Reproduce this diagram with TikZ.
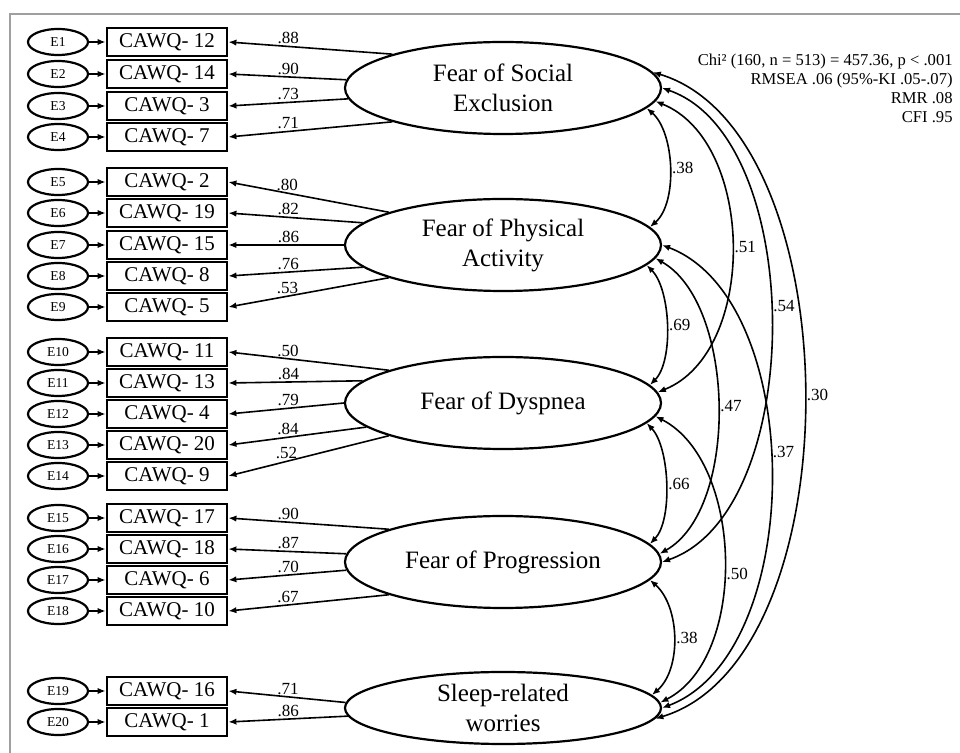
\documentclass[tikz,border=0pt]{standalone}
\usepackage{fontspec}
\setmainfont{Liberation Serif}
\usetikzlibrary{positioning, shapes.geometric, arrows.meta, calc}

\tikzset{
  errnode/.style={draw, ellipse, line width=1.1pt, minimum width=30pt,
    minimum height=13pt, inner sep=0pt, font=\fontsize{6.8}{7.5}\selectfont},
  itembox/.style={draw, line width=1.4pt, minimum width=60pt,
    minimum height=14pt, inner sep=0pt, font=\fontsize{10.5}{12}\selectfont},
  latent/.style={draw, ellipse, line width=1.1pt, minimum width=158pt,
    minimum height=46pt, inner sep=0pt, align=center,
    font=\fontsize{12.5}{15}\selectfont},
  loadline/.style={line width=0.8pt, -{Latex[length=4pt,width=3.2pt]}},
  corr/.style={line width=0.8pt,
    {Latex[length=4pt,width=3.2pt]}-{Latex[length=4pt,width=3.2pt]}},
  coef/.style={font=\fontsize{8.5}{10}\selectfont, inner sep=1pt},
}

\begin{document}
\begin{tikzpicture}[x=0.5pt, y=-0.5pt]
  \useasboundingbox (0,0) rectangle (960,753);
  \draw[gray!75, line width=0.9pt] (10,14) rectangle (990,790);

  % latent factors
  \node[latent] (fse) at (503,88) {Fear of Social\\Exclusion};
  \node[latent] (fpa) at (503,245) {Fear of Physical\\Activity};
  \node[latent] (fdy) at (503,403) {Fear of Dyspnea};
  \node[latent] (fpr) at (503,562) {Fear of Progression};
  \node[latent, minimum height=36pt, inner sep=-1.5pt] (slw) at (503,708)
       {Sleep-related\\worries};

  % items with their errors
  \foreach \i/\item/\y in {1/12/42, 2/14/74, 3/3/106, 4/7/137,
      5/2/182, 6/19/213, 7/15/245, 8/8/276, 9/5/307,
      10/11/352, 11/13/383, 12/4/414, 13/20/445, 14/9/476,
      15/17/518, 16/18/549, 17/6/580, 18/10/611,
      19/16/691, 20/1/722} {
    \node[errnode] (e\i) at (58,\y) {E\i};
    \node[itembox] (b\i) at (167,\y) {CAWQ- \item};
    \draw[loadline] (e\i) -- (b\i);
  }

  % loadings
  \foreach \i/\lat/\ang/\val in {1/fse/163/.88, 2/fse/177/.90, 3/fse/184/.73,
      4/fse/197/.71, 5/fpa/164/.80, 6/fpa/171/.82, 7/fpa/180/.86,
      8/fpa/189/.76, 9/fpa/196/.53, 10/fdy/164/.50, 11/fdy/171/.84,
      12/fdy/180/.79, 13/fdy/190/.84, 14/fdy/196/.52, 15/fpr/164/.90,
      16/fpr/177/.87, 17/fpr/183/.70, 18/fpr/196/.67, 19/slw/178/.71,
      20/slw/183/.86} {
    \draw[loadline] (\lat.\ang) -- (b\i.east);
    \node[coef, anchor=south] (l\i) at ($(b\i.east)!30pt!(\lat.\ang)$) {\val};
  }

  % correlations
  \draw[corr] (fse.-8) .. controls +(28,24) and +(28,-24) .. (fpa.7)
    node[coef, pos=0.5, anchor=west] (r1) {.38};
  \draw[corr] (fse.-5) .. controls +(100,40) and +(100,-40) .. (fdy.4)
    node[coef, pos=0.5, anchor=west] (r2) {.51};
  \draw[corr] (fse.0) .. controls +(145,50) and +(145,-50) .. (fpr.0)
    node[coef, pos=0.47, anchor=west] (r3) {.54};
  \draw[corr] (fse.6) .. controls +(200,60) and +(200,-60) .. (slw.-4)
    node[coef, pos=0.5, anchor=west] (r4) {.30};
  \draw[corr] (fpa.-8) .. controls +(24,24) and +(24,-24) .. (fdy.7)
    node[coef, pos=0.5, anchor=west] (r5) {.69};
  \draw[corr] (fpa.-5) .. controls +(80,45) and +(80,-45) .. (fpr.3)
    node[coef, pos=0.5, anchor=west] (r6) {.47};
  \draw[corr] (fpa.0) .. controls +(145,55) and +(145,-55) .. (slw.0)
    node[coef, pos=0.46, anchor=west] (r7) {.37};
  \draw[corr] (fdy.-8) .. controls +(23,24) and +(23,-24) .. (fpr.7)
    node[coef, pos=0.5, anchor=west] (r8) {.66};
  \draw[corr] (fdy.-5) .. controls +(88,45) and +(88,-45) .. (slw.2)
    node[coef, pos=0.54, anchor=west] (r9) {.50};
  \draw[corr] (fpr.-7) .. controls +(30,26) and +(30,-26) .. (slw.5)
    node[coef, pos=0.5, anchor=west] (r10) {.38};

  % fit indices
  \node[font=\fontsize{8.3}{9.5}\selectfont, align=right, anchor=north east,
        inner sep=0pt] (fit) at (953,54)
       {Chi² (160, n = 513) = 457.36, p < .001\\RMSEA .06 (95\%-KI .05-.07)\\RMR .08\\CFI .95};
\end{tikzpicture}
\end{document}
